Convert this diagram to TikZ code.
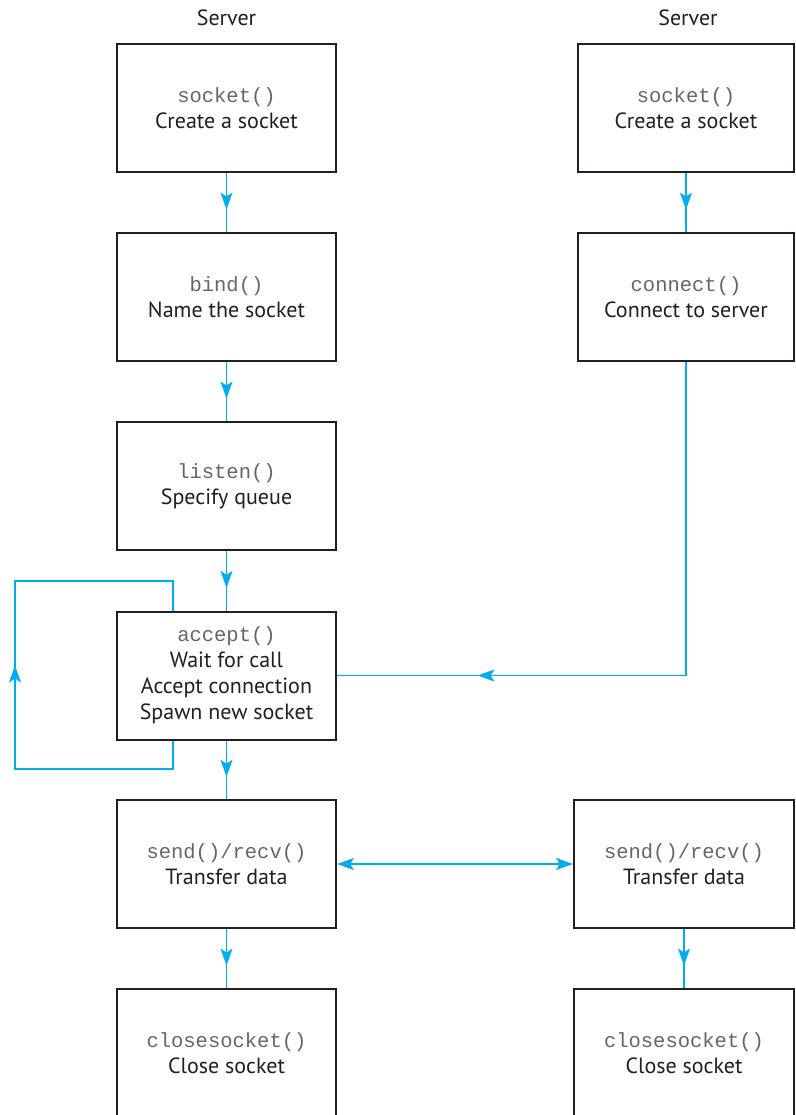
\documentclass[tikz,border=0pt]{standalone}
\usepackage{fontspec}
\setmainfont{PT Sans}
\newfontfamily\codefont{Liberation Mono}
\usetikzlibrary{arrows.meta,decorations.markings}
\definecolor{lineblue}{HTML}{00AEEF}
\definecolor{boxline}{HTML}{231F20}
\definecolor{codegray}{HTML}{666666}
\newcommand{\code}[1]{{\codefont\fontsize{20.5}{26}\selectfont\color{codegray}#1}}
\begin{document}
\begin{tikzpicture}[x=1pt,y=-1pt,
  box/.style={draw=boxline,line width=2pt,minimum height=128pt,align=center,inner sep=0pt,
    font=\fontsize{22}{26}\selectfont,text=boxline},
  lbox/.style={box,minimum width=219pt},
  rtbox/.style={box,minimum width=216pt},
  rbbox/.style={box,minimum width=220pt},
  title/.style={font=\fontsize{22}{24}\selectfont,text=boxline,inner sep=0pt},
  conn/.style={color=lineblue,line width=1.5pt},
  midarrow/.style={postaction={decorate},decoration={markings,
    mark=at position #1 with {\arrow{Stealth[length=17pt,width=12pt,inset=4pt]}}}},
  both/.style={{Stealth[length=17pt,width=12pt,inset=4pt]}-{Stealth[length=17pt,width=12pt,inset=4pt]}}
]
\clip (0,0) rectangle (795,1115);
\fill[white] (0,0) rectangle (795,1115);

\node[title] (t1) at (226.5,18) {Server};
\node[title] (t2) at (688,18) {Server};

\node[lbox] (s1) at (226.5,108) {\code{socket()}\\Create a socket};
\node[lbox] (s2) at (226.5,297) {\code{bind()}\\Name the socket};
\node[lbox] (s3) at (226.5,486) {\code{listen()}\\Specify queue};
\node[lbox] (s4) at (226.5,675.5) {\code{accept()}\\Wait for call\\Accept connection\\Spawn new socket};
\node[lbox] (s5) at (226.5,864) {\code{send()/recv()}\\Transfer data};
\node[lbox] (s6) at (226.5,1053) {\code{closesocket()}\\Close socket};

\node[rtbox] (c1) at (686,108) {\code{socket()}\\Create a socket};
\node[rtbox] (c2) at (686,297) {\code{connect()}\\Connect to server};
\node[rbbox] (c5) at (684,864) {\code{send()/recv()}\\Transfer data};
\node[rbbox] (c6) at (684,1053) {\code{closesocket()}\\Close socket};

\draw[conn,midarrow=0.62] (s1.south) -- (s2.north);
\draw[conn,midarrow=0.62] (s2.south) -- (s3.north);
\draw[conn,midarrow=0.62] (s3.south) -- (s4.north);
\draw[conn,midarrow=0.62] (s4.south) -- (s5.north);
\draw[conn,midarrow=0.62] (s5.south) -- (s6.north);
\draw[conn,midarrow=0.62] (c1.south) -- (c2.north);
\draw[conn,midarrow=0.62] (c5.south) -- (c6.north);

\draw[conn,midarrow=522pt] (c2.south) |- (s4.east);

\coordinate (lb) at ([xshift=57pt]s4.south west);
\coordinate (lt) at ([xshift=57pt]s4.north west);
\draw[conn,midarrow=290pt] (lb) |- (15,769) -- (15,581) -| (lt);

\draw[conn,both] (s5.east) -- (c5.west);
\end{tikzpicture}
\end{document}
